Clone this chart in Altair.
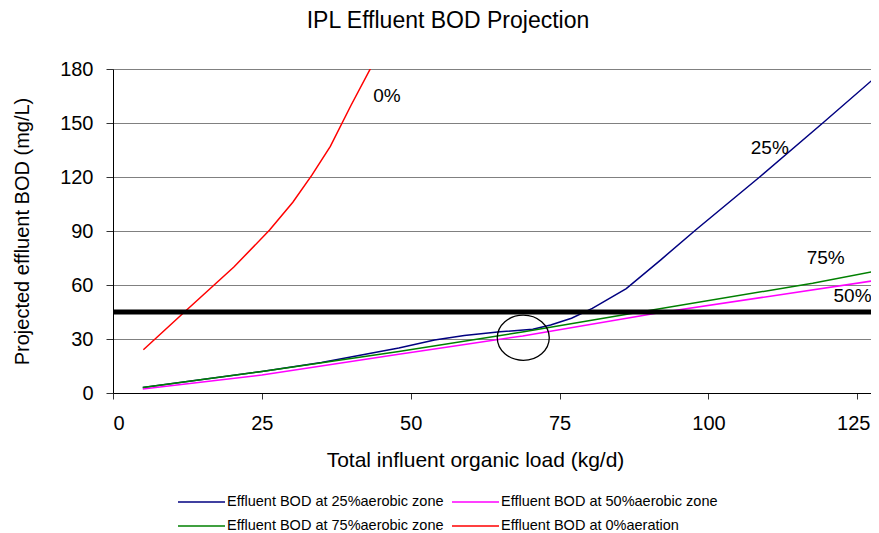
import altair as alt
import pandas as pd

# ---- data ----
series_names = [
    "Effluent BOD at 25%aerobic zone",
    "Effluent BOD at 50%aerobic zone",
    "Effluent BOD at 75%aerobic zone",
    "Effluent BOD at 0%aeration",
]
series_colors = ["#000080", "#FF00FF", "#008000", "#FF0000"]

load_25 = [5, 15, 25, 35, 48, 54, 59, 65, 70.5, 73.5, 77, 80.5, 86.2, 92, 98, 108.6, 119.2, 128.6]
bod_25 = [3, 7.5, 12, 17, 25, 29.4, 32, 34, 35.4, 37.8, 41.5, 47, 58, 74, 91, 120, 150, 177]

load_50 = [5, 25, 48, 55.4, 68.8, 91.2, 128.6]
bod_50 = [2.2, 10, 21.5, 25.2, 31.7, 44.3, 62.8]

load_75 = [5, 25, 48, 69, 87.3, 117.5, 128.6]
bod_75 = [3, 12, 23, 34, 44.3, 61, 68]

load_0 = [5.1, 12, 20.3, 26.3, 30.2, 33.4, 36.5, 40, 44]
bod_0 = [24, 45, 70, 90.5, 106, 121, 137, 160, 185]

limit_bod = [45]

circle_load = [68.9]
circle_bod = [30.7]

label_text = ["0%", "25%", "75%", "50%"]
label_load = [46.0, 110.3, 119.7, 124.2]
label_bod = [165, 136, 75, 54]

x_ticks = [0, 25, 50, 75, 100, 125]
y_ticks = [0, 30, 60, 90, 120, 150, 180]

# ---- tables ----
rows = []
for name, xs, ys in zip(series_names, [load_25, load_50, load_75, load_0], [bod_25, bod_50, bod_75, bod_0]):
    for i, (a, b) in enumerate(zip(xs, ys)):
        rows.append({"series": name, "load": a, "bod": b, "order": i})
df = pd.DataFrame(rows)
df_limit = pd.DataFrame({"bod": limit_bod})
df_circle = pd.DataFrame({"load": circle_load, "bod": circle_bod})
df_labels = pd.DataFrame({"text": label_text, "load": label_load, "bod": label_bod})

FONT = "Liberation Sans"
xscale = alt.Scale(domain=[0, 127.3], nice=False, zero=False)
yscale = alt.Scale(domain=[0, 180], nice=False)

x_axis = alt.Axis(
    values=x_ticks, title="Total influent organic load (kg/d)", grid=False,
    labelFontSize=20, titleFontSize=21, labelFont=FONT, titleFont=FONT,
    labelColor="#000", titleColor="#000", titleFontWeight="normal",
    domainColor="#000", tickColor="#333", tickSize=6, labelPadding=14, titlePadding=16,
    titleX=362,
    labelOffset={"condition": {"test": "datum.value == 125", "value": -4}, "value": 0},
)
y_axis = alt.Axis(
    values=y_ticks, title="Projected effluent BOD (mg/L)", grid=True,
    gridColor="#808080", gridWidth=1,
    labelFontSize=20, titleFontSize=20, labelFont=FONT, titleFont=FONT,
    labelColor="#000", titleColor="#000", titleFontWeight="normal",
    domainColor="#000", tickColor="#333", tickSize=7, labelPadding=13, titlePadding=27,
)

lines = alt.Chart(df).mark_line(strokeWidth=1.5, clip=True).encode(
    x=alt.X("load:Q", scale=xscale, axis=x_axis),
    y=alt.Y("bod:Q", scale=yscale, axis=y_axis),
    color=alt.Color(
        "series:N",
        scale=alt.Scale(domain=series_names, range=series_colors),
        legend=alt.Legend(
            title=None, orient="none", legendX=64, legendY=425, columns=2,
            direction="horizontal",
            symbolType="stroke", symbolSize=47 * 47, symbolStrokeWidth=1.5,
            clipHeight=16, labelFontSize=14.5, labelFont=FONT, labelColor="#000",
            labelOffset=1, labelLimit=400, columnPadding=7, rowPadding=8, padding=0,
        ),
    ),
    order="order:Q",
)

limit = alt.Chart(df_limit).mark_rule(color="#000", strokeWidth=5).encode(
    y=alt.Y("bod:Q", scale=yscale)
)

circle = alt.Chart(df_circle).mark_point(
    shape="M-1,0A1,0.87,0,1,0,1,0A1,0.87,0,1,0,-1,0Z",
    size=52 * 52, filled=False, color="#000", strokeWidth=1.3, opacity=1,
).encode(
    x=alt.X("load:Q", scale=xscale),
    y=alt.Y("bod:Q", scale=yscale),
)

labels = alt.Chart(df_labels).mark_text(font=FONT, fontSize=19, color="#000").encode(
    x=alt.X("load:Q", scale=xscale),
    y=alt.Y("bod:Q", scale=yscale),
    text="text:N",
)

chart = alt.layer(lines, limit, circle, labels).properties(
    width=758, height=324,
    title=alt.TitleParams(
        "IPL Effluent BOD Projection", font=FONT, fontSize=23, fontWeight="normal",
        color="#000", dx=-44, offset=26, anchor="middle",
    ),
    autosize=alt.AutoSizeParams(type="none"),
    padding={"left": 105, "top": 61, "right": 0, "bottom": 140},
).configure_view(stroke=None)

chart.save("out.html", embed_options={"renderer": "svg", "actions": False})
